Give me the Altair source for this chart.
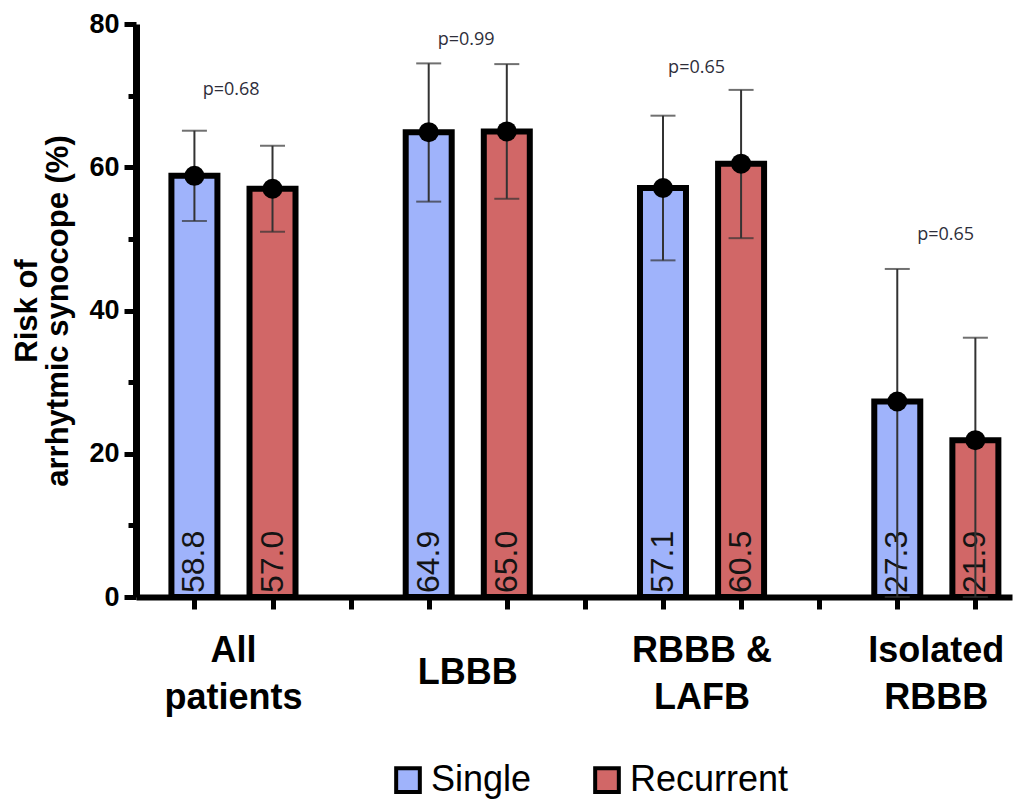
import altair as alt
import pandas as pd

# ---------------- data ----------------
groups = ["All patients", "LBBB", "RBBB & LAFB", "Isolated RBBB"]
group_lines = ["All\npatients", "LBBB", "RBBB &\nLAFB", "Isolated\nRBBB"]
group_slot = [0, 3, 6, 9]
series = ["Single", "Recurrent"]

single_val = [58.8, 64.9, 57.1, 27.3]
single_hi = [65.1, 74.5, 67.2, 45.8]
single_lo = [52.5, 55.2, 47.0, 0.0]

recurrent_val = [57.0, 65.0, 60.5, 21.9]
recurrent_hi = [63.0, 74.4, 70.8, 36.2]
recurrent_lo = [51.0, 55.6, 50.1, 0.0]

p_text = ["p=0.68", "p=0.99", "p=0.65", "p=0.65"]
p_pos = [0.47, 3.48, 6.43, 9.62]
p_height = [70.8, 77.8, 73.9, 50.5]

y_ticks = [0, 10, 20, 30, 40, 50, 60, 70, 80]
x_ticks = list(range(11))

colors = ["#9fb3fb", "#d16767"]

# ---------------- tables ----------------
rows = []
for i, g in enumerate(groups):
    for j, (s, vals, his, los) in enumerate([
        ("Single", single_val, single_hi, single_lo),
        ("Recurrent", recurrent_val, recurrent_hi, recurrent_lo),
    ]):
        rows.append({
            "group": g, "series": s, "slot": group_slot[i] + j,
            "value": vals[i], "hi": his[i], "lo": los[i],
            "label": f"{vals[i]:.1f}",
        })
df = pd.DataFrame(rows)
pdf = pd.DataFrame({"x": p_pos, "y": p_height, "text": p_text})
gdf = pd.DataFrame({"x": [s + 0.5 for s in group_slot], "text": group_lines})
gdf_multi = gdf[gdf["text"].str.contains("\n")]
gdf_single = gdf[~gdf["text"].str.contains("\n")]

W, H = 876, 573
x_scale = alt.Scale(domain=[-0.684, 10.405], nice=False, zero=False)
y_scale = alt.Scale(domain=[0, 80], nice=False)

x_axis = alt.Axis(
    values=x_ticks, labels=False, title=None, grid=False,
    domainWidth=6, domainColor="black", tickColor="black",
    tickWidth=5, tickSize=12)
y_axis = alt.Axis(
    values=y_ticks, grid=False,
    labelExpr="datum.value % 20 === 0 ? datum.label : ''",
    labelFont="Liberation Sans", labelFontWeight="bold", labelFontSize=27,
    labelColor="black", labelPadding=5,
    domainWidth=7, domainColor="black", tickColor="black", tickWidth=5,
    tickSize={"condition": {"test": "datum.value % 20 === 0", "value": 12}, "value": 8},
    title=["Risk of", "arrhytmic synocope (%)"],
    titleFont="Liberation Sans", titleFontWeight="bold", titleFontSize=31,
    titleLineHeight=31, titleColor="black", titlePadding=14)

base = alt.Chart(df)

bars = base.mark_bar(orient="vertical", size=46, stroke="black", strokeWidth=6).encode(
    x=alt.X("slot:Q", scale=x_scale, axis=x_axis),
    y=alt.Y("value:Q", scale=y_scale, axis=y_axis),
    color=alt.Color("series:N", scale=alt.Scale(domain=series, range=colors),
                    legend=alt.Legend(
                        title=None, orient="none", direction="horizontal",
                        legendX=254, legendY=738, symbolType="square",
                        symbolSize=560, symbolStrokeColor="black",
                        symbolStrokeWidth=4, labelFont="Liberation Sans",
                        labelFontSize=36, labelColor="black", labelOffset=5,
                        columnPadding=55, padding=0)),
)

values_txt = base.mark_text(angle=270, align="left", baseline="middle",
                            fontSize=32, font="Liberation Sans", color="#141414",
                            dx=4).encode(
    x=alt.X("slot:Q", scale=x_scale, axis=x_axis),
    y=alt.Y(datum=0, scale=y_scale, axis=y_axis),
    text="label:N",
)

err = base.mark_rule(color="#333333", strokeWidth=2).encode(
    x=alt.X("slot:Q", scale=x_scale, axis=x_axis),
    y=alt.Y("lo:Q", scale=y_scale, axis=y_axis),
    y2="hi:Q",
)
cap_hi = base.mark_tick(orient="horizontal", size=25, thickness=2, color="#333333").encode(
    x=alt.X("slot:Q", scale=x_scale, axis=x_axis),
    y=alt.Y("hi:Q", scale=y_scale, axis=y_axis),
)
cap_lo = base.mark_tick(orient="horizontal", size=25, thickness=2, color="#333333").encode(
    x=alt.X("slot:Q", scale=x_scale, axis=x_axis),
    y=alt.Y("lo:Q", scale=y_scale, axis=y_axis),
)
dots = base.mark_circle(size=400, color="black", opacity=1).encode(
    x=alt.X("slot:Q", scale=x_scale, axis=x_axis),
    y=alt.Y("value:Q", scale=y_scale, axis=y_axis),
)

ptxt = alt.Chart(pdf).mark_text(font="Open Sans", fontSize=18, color="#2e2e3a").encode(
    x=alt.X("x:Q", scale=x_scale, axis=x_axis),
    y=alt.Y("y:Q", scale=y_scale, axis=y_axis),
    text="text:N",
)

gtxt_style = dict(font="Liberation Sans", fontWeight="bold", fontSize=36,
                  lineBreak="\n", lineHeight=47, baseline="middle", color="black")
gtxt_multi = alt.Chart(gdf_multi).mark_text(**gtxt_style).encode(
    x=alt.X("x:Q", scale=x_scale, axis=x_axis),
    y=alt.value(H + 54),
    text="text:N",
)
gtxt_single = alt.Chart(gdf_single).mark_text(**gtxt_style).encode(
    x=alt.X("x:Q", scale=x_scale, axis=x_axis),
    y=alt.value(H + 76),
    text="text:N",
)

chart = alt.layer(bars, values_txt, err, cap_hi, cap_lo, dots, ptxt,
                  gtxt_multi, gtxt_single).properties(
    width=W, height=H,
    autosize=alt.AutoSizeParams(type="none"),
    padding={"left": 128, "top": 16, "right": 7, "bottom": 208},
).configure_view(stroke=None)

chart.save("out.html", embed_options={"renderer": "svg", "actions": False})
